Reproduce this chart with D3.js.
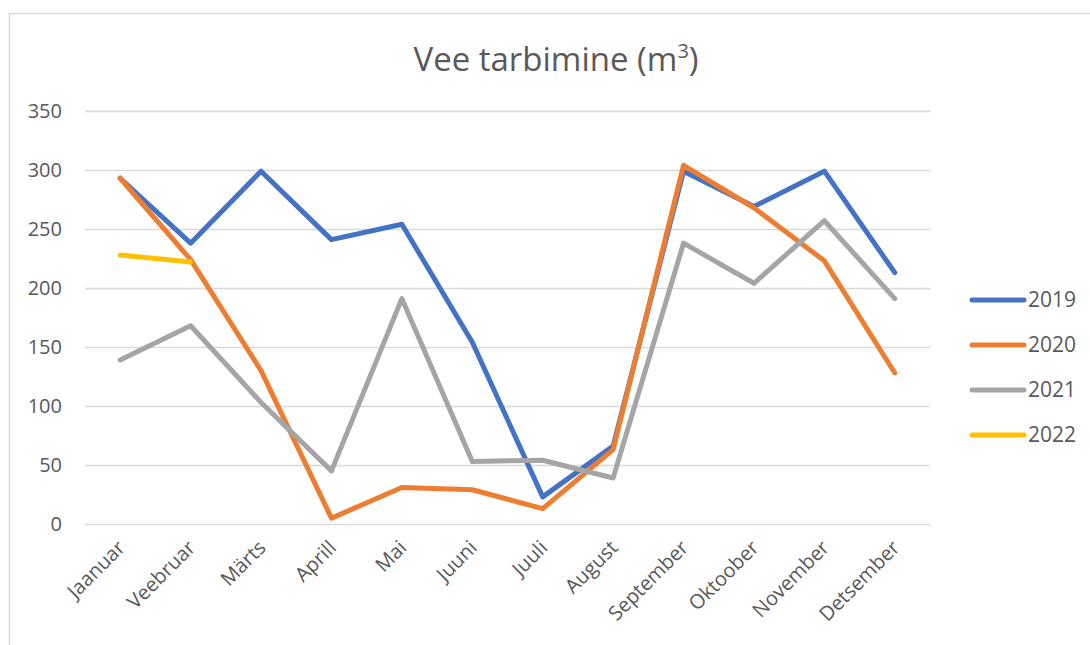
<!DOCTYPE html>
<html>
<head>
<meta charset="utf-8">
<script src="https://cdn.jsdelivr.net/npm/d3@7"></script>
<style>
    body { margin: 0; background: #fff; }
    svg { display: block; font-family: "Open Sans", "Noto Sans", sans-serif; }
</style>
</head>
<body>
<svg id="chart" width="1090" height="645"></svg>
<script>
const months = ['Jaanuar', 'Veebruar', 'Märts', 'Aprill', 'Mai', 'Juuni', 'Juuli',
    'August', 'September', 'Oktoober', 'November', 'Detsember'];
const years = ['2019', '2020', '2021', '2022'];
const values2019 = [293, 238, 299, 241, 254, 154, 23, 66, 299, 269, 299, 213];
const values2020 = [293, 224, 130, 5, 31, 29, 13, 63, 304, 268, 223, 128];
const values2021 = [139, 168, 103, 45, 191, 53, 54, 39, 238, 204, 257, 191];
const values2022 = [228, 222];
const yTicks = [0, 50, 100, 150, 200, 250, 300, 350];
const colors = ['#4472C4', '#ED7D31', '#A5A5A5', '#FFC000'];

const series = [values2019, values2020, values2021, values2022].map((values, i) => ({
    name: years[i],
    color: colors[i],
    data: values.map((v, j) => ({ month: months[j], value: v }))
}));

const svg = d3.select('#chart');
const margin = { top: 111, left: 85, right: 160, bottom: 121 };
const width = 1090 - margin.left - margin.right;
const height = 645 - margin.top - margin.bottom;

// chart frame (cut off on the right and bottom like the reference)
svg.append('rect')
    .attr('x', 9.5).attr('y', 13.5)
    .attr('width', 1200).attr('height', 800)
    .attr('fill', 'none')
    .attr('stroke', '#D9D9D9')
    .attr('stroke-width', 1.5);

const title = svg.append('text')
    .attr('x', 556).attr('y', 71)
    .attr('text-anchor', 'middle')
    .attr('fill', '#595959')
    .style('font-size', '33px');
title.append('tspan').text('Vee tarbimine (m');
title.append('tspan').attr('dy', -13).style('font-size', '20px').text('3');
title.append('tspan').attr('dy', 13).text(')');

const x = d3.scaleBand().domain(months).range([0, width]);
const y = d3.scaleLinear().domain([0, 350]).range([height, 0]);

const g = svg.append('g').attr('transform', `translate(${margin.left},${margin.top})`);

const yAxis = g.append('g')
    .call(d3.axisLeft(y).tickValues(yTicks).tickSize(-width).tickPadding(23));
yAxis.select('.domain').remove();
yAxis.selectAll('.tick line').attr('stroke', '#D9D9D9').attr('stroke-width', 1.5);
yAxis.selectAll('.tick text')
    .attr('fill', '#595959')
    .style('font-size', '20px')
    .style('font-family', '"Open Sans", sans-serif');

const xAxis = g.append('g')
    .attr('transform', `translate(0,${height})`)
    .call(d3.axisBottom(x).tickSize(0).tickPadding(0));
xAxis.select('.domain').remove();
xAxis.selectAll('.tick text')
    .attr('fill', '#595959')
    .style('font-size', '20px')
    .style('font-family', '"Open Sans", sans-serif')
    .attr('text-anchor', 'end')
    .attr('dy', null)
    .attr('transform', 'translate(6,25) rotate(-45)');

const line = d3.line()
    .x(d => x(d.month) + x.bandwidth() / 2)
    .y(d => y(d.value));

g.selectAll('.series')
    .data(series)
    .join('path')
    .attr('class', 'series')
    .attr('d', d => line(d.data))
    .attr('fill', 'none')
    .attr('stroke', d => d.color)
    .attr('stroke-width', 5)
    .attr('stroke-linejoin', 'round')
    .attr('stroke-linecap', 'round');

const legend = svg.append('g').attr('transform', 'translate(970,300)');
const item = legend.selectAll('g')
    .data(series)
    .join('g')
    .attr('transform', (d, i) => `translate(0,${i * 45})`);
item.append('line')
    .attr('x1', 2).attr('x2', 54)
    .attr('stroke', d => d.color)
    .attr('stroke-width', 5)
    .attr('stroke-linecap', 'round');
item.append('text')
    .attr('x', 58).attr('y', 7)
    .attr('fill', '#595959')
    .style('font-size', '21px')
    .text(d => d.name);
</script>
</body>
</html>
